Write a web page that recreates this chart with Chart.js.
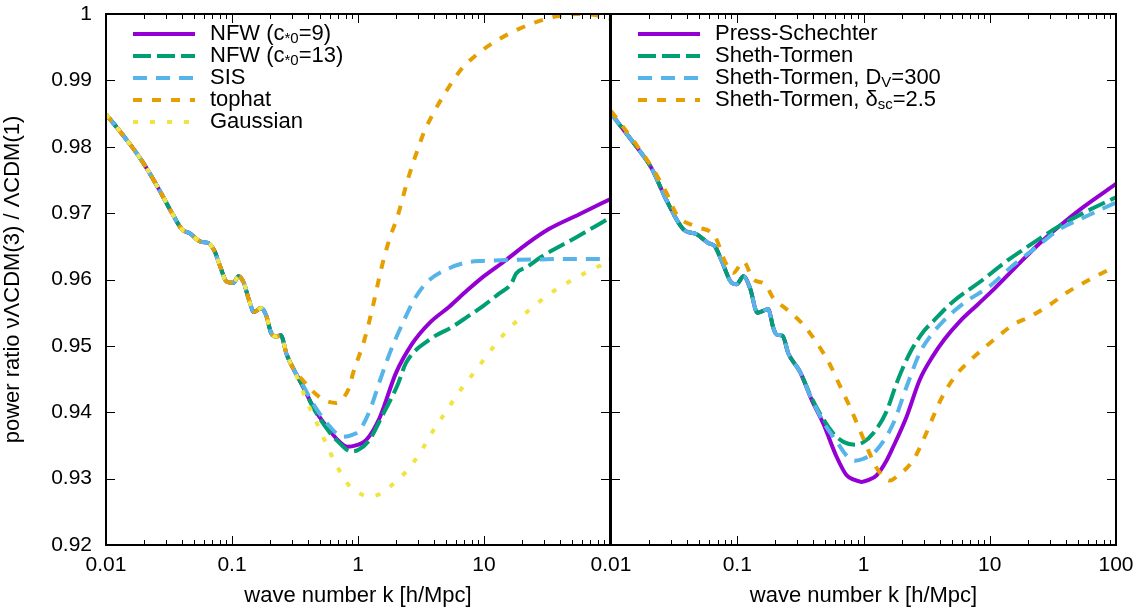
<!DOCTYPE html>
<html>
<head>
<meta charset="utf-8">
<script src="https://cdn.jsdelivr.net/npm/chart.js@4.4.1/dist/chart.umd.min.js"></script>
<style>
  html, body { margin: 0; padding: 0; background: #fff; }
  #wrap { position: relative; width: 1140px; height: 610px; overflow: hidden; }
  #left { position: absolute; left: 0; top: 0; }
  #right { position: absolute; left: 560px; top: 0; }
</style>
</head>
<body>
<div id="wrap">
  <div id="left"><canvas id="cL" width="620" height="610"></canvas></div>
  <div id="right"><canvas id="cR" width="580" height="610"></canvas></div>
</div>
<script>
// axis ticks
const yTicks = [0.92, 0.93, 0.94, 0.95, 0.96, 0.97, 0.98, 0.99, 1];
const yTickLabels = ['0.92', '0.93', '0.94', '0.95', '0.96', '0.97', '0.98', '0.99', '1'];
const xTicksL = [0.01, 0.1, 1, 10];
const xLabelsL = ['0.01', '0.1', '1', '10'];
const xTicksR = [0.01, 0.1, 1, 10, 100];
const xLabelsR = ['0.01', '0.1', '1', '10', '100'];

// ---- left panel: halo profiles ----
// shared low-k part (all five curves lie on top of each other)
const kLowL = [0.01, 0.0141, 0.0194, 0.0265, 0.0341, 0.0399, 0.0467, 0.0564, 0.0647, 0.0726, 0.0798, 0.0904,
  0.1025, 0.1127, 0.124, 0.136, 0.1496, 0.170, 0.1866, 0.2049, 0.225, 0.2442, 0.2716, 0.3083];
const lowL = [0.9849, 0.9814, 0.9778, 0.9735, 0.9697, 0.9676, 0.9669, 0.9657, 0.9655, 0.9643, 0.9622, 0.9597,
  0.9595, 0.9605, 0.9595, 0.9570, 0.9551, 0.9557, 0.9546, 0.9519, 0.9514, 0.9516, 0.9487, 0.9465];

const kNfw9 = [0.365, 0.45, 0.594, 0.70, 0.828, 0.96, 1.16, 1.48, 2.0, 2.71, 3.67, 5.3, 7.4, 10, 14.9, 22, 32.7, 56.6, 100];
const nfw9 = [0.9439, 0.9405, 0.9373, 0.9357, 0.9348, 0.9350, 0.9358, 0.9391, 0.9459, 0.9504, 0.9534, 0.9559, 0.9584,
  0.9605, 0.9629, 0.9654, 0.9676, 0.9698, 0.9721];

const kNfw13 = [0.365, 0.45, 0.594, 0.70, 0.881, 1.0, 1.23, 1.57, 2.06, 2.4, 3.67, 5.64, 7.4, 10, 13, 16.5, 18, 22, 29, 53.3, 100];
const nfw13 = [0.9439, 0.9404, 0.9370, 0.9355, 0.9341, 0.9343, 0.9358, 0.9396, 0.9441, 0.9474, 0.9509, 0.9529, 0.9544,
  0.9561, 0.9578, 0.9594, 0.9609, 0.9619, 0.9635, 0.9663, 0.9693];

const kSis = [0.365, 0.45, 0.594, 0.757, 0.9, 1.03, 1.23, 1.52, 1.83, 2.26, 2.88, 3.67, 5.3, 7.4, 9.7, 24, 50, 100];
const sis = [0.9441, 0.9410, 0.9379, 0.9363, 0.9366, 0.9373, 0.9401, 0.9452, 0.9494, 0.9534, 0.9574, 0.9599, 0.9617,
  0.9626, 0.9628, 0.9630, 0.9631, 0.9631];

const kTophat = [0.35, 0.494, 0.671, 0.75, 0.855, 0.908, 1.124, 1.31, 1.52, 1.77, 2.06, 2.48, 2.88, 3.36, 4.03, 4.99,
  6.55, 8.65, 11.9, 17.3, 25.2, 36.8, 53.7, 78.2, 100];
const tophat = [0.9452, 0.9423, 0.9414, 0.9420, 0.9438, 0.9457, 0.9509, 0.9559, 0.9614, 0.9660, 0.9695, 0.9750, 0.9788,
  0.9823, 0.9853, 0.9883, 0.9916, 0.9938, 0.9957, 0.9974, 0.9987, 0.9996, 1.0, 0.9998, 0.9993];

const kGauss = [0.35, 0.388, 0.45, 0.558, 0.671, 0.855, 1.0, 1.23, 1.5, 1.77, 2.47, 3.16, 3.91, 4.99, 6.36, 8.6, 11.5,
  16, 25.7, 36, 53.3, 81.5, 100];
const gauss = [0.9440, 0.9418, 0.9392, 0.9353, 0.9321, 0.9289, 0.9279, 0.9273, 0.9277, 0.9287, 0.9313, 0.9341, 0.9371,
  0.9401, 0.9431, 0.9463, 0.9495, 0.9527, 0.9562, 0.9583, 0.9602, 0.9620, 0.9626];

// ---- right panel: mass functions ----
const kLowR = [0.01, 0.0152, 0.0209, 0.0276, 0.0373, 0.0477, 0.0589, 0.0665, 0.0753, 0.0904, 0.099, 0.112, 0.1263,
  0.1443, 0.176, 0.193, 0.205, 0.229, 0.2535, 0.314];
const lowR = [0.9850, 0.9805, 0.9768, 0.9719, 0.9676, 0.9668, 0.9655, 0.9650, 0.9628, 0.9595, 0.9593, 0.9605, 0.9587,
  0.9550, 0.9555, 0.9527, 0.9517, 0.9515, 0.9489, 0.9461];

const kPs = [0.388, 0.48, 0.612, 0.735, 0.85, 0.966, 1.1, 1.27, 1.5, 1.72, 2.19, 2.79, 3.5, 4.38, 5.8, 8, 11, 17.3, 25, 35.9, 55, 100];
const ps = [0.9419, 0.9383, 0.9333, 0.9305, 0.9298, 0.9295, 0.9298, 0.9305, 0.9325, 0.9348, 0.9393, 0.9449, 0.9483,
  0.9510, 0.9537, 0.9562, 0.9587, 0.9625, 0.9655, 0.9681, 0.9709, 0.9744];

const kSt = [0.388, 0.452, 0.577, 0.7, 0.855, 1.0, 1.19, 1.52, 1.83, 2.34, 3.0, 3.56, 5, 8.87, 13, 18.4, 25, 35.9, 55, 100];
const st = [0.9422, 0.9398, 0.9368, 0.9355, 0.9351, 0.9355, 0.9368, 0.9401, 0.9444, 0.9490, 0.9522, 0.9537, 0.9565,
  0.9600, 0.9625, 0.9645, 0.9662, 0.9681, 0.9700, 0.9724];

const kStDv = [0.388, 0.5, 0.612, 0.74, 0.855, 1.0, 1.27, 1.72, 2.19, 2.8, 3.4, 4.27, 6.3, 10, 15, 22.1, 35.9, 55, 100];
const stDv = [0.9420, 0.9380, 0.9356, 0.9334, 0.9327, 0.9330, 0.9343, 0.9383, 0.9438, 0.9490, 0.9515, 0.9537, 0.9565,
  0.9590, 0.9620, 0.9645, 0.9676, 0.9693, 0.9716];

const kStDsc = [0.01, 0.0152, 0.0209, 0.0276, 0.0331, 0.0462, 0.0665, 0.080, 0.093, 0.112, 0.134, 0.166, 0.193, 0.246,
  0.333, 0.425, 0.542, 0.65, 0.78, 0.936, 1.09, 1.27, 1.62, 1.83, 2.48, 2.97, 3.56, 4.12, 5.3, 7.26, 10.6, 15.4, 20.8,
  29.9, 40.6, 62, 100];
const stDsc = [0.9854, 0.9808, 0.9770, 0.9730, 0.9698, 0.9680, 0.9665, 0.9627, 0.9610, 0.9627, 0.9600, 0.9593, 0.9572,
  0.9555, 0.9532, 0.9505, 0.9472, 0.9440, 0.9408, 0.9373, 0.9343, 0.9316, 0.9297, 0.9303, 0.9328, 0.9358, 0.9393,
  0.9420, 0.9454, 0.9481, 0.9508, 0.9532, 0.9544, 0.9562, 0.9580, 0.9600, 0.9620];

const legendL = ['NFW (c_{*0}=9)', 'NFW (c_{*0}=13)', 'SIS', 'tophat', 'Gaussian'];
const legendR = ['Press-Schechter', 'Sheth-Tormen', 'Sheth-Tormen, D_{V}=300', 'Sheth-Tormen, \u03b4_{sc}=2.5'];

const FONT = '"Liberation Sans", Arial, Helvetica, sans-serif';
Chart.defaults.font.family = FONT;
Chart.defaults.color = '#000';

const purple = '#9400d3', green = '#009e73', blue = '#56b4e9', orange = '#e69f00', yellow = '#f0e442';

function pts(k, v) { return k.map((x, i) => ({ x: x, y: v[i] })); }

function line(label, data, color, dash, order) {
  return {
    label: label, data: data, borderColor: color, borderDash: dash, borderWidth: 4,
    pointRadius: 0, fill: false, cubicInterpolationMode: 'monotone', borderCapStyle: 'butt', order: order
  };
}

// splits "NFW (c_{*0}=9)" into normal / subscript pieces
function pieces(s) {
  const out = [];
  const re = /_\{([^}]*)\}/g;
  let last = 0, m;
  while ((m = re.exec(s))) {
    if (m.index > last) out.push({ t: s.slice(last, m.index), sub: false });
    out.push({ t: m[1], sub: true });
    last = re.lastIndex;
  }
  if (last < s.length) out.push({ t: s.slice(last), sub: false });
  return out;
}

const frame = {
  id: 'frame',
  afterDatasetsDraw(chart, args, opts) {
    const ctx = chart.ctx, a = chart.chartArea, x = chart.scales.x, y = chart.scales.y;
    ctx.save();
    ctx.strokeStyle = '#000';
    ctx.lineWidth = 1;
    ctx.beginPath();
    for (let e = -2; e < 2; e++) {
      for (let m = 1; m < 10; m++) {
        const px = Math.round(x.getPixelForValue(m * Math.pow(10, e))) + 0.5;
        const len = m === 1 ? 9 : 5;
        ctx.moveTo(px, a.bottom); ctx.lineTo(px, a.bottom - len);
        ctx.moveTo(px, a.top); ctx.lineTo(px, a.top + len);
      }
    }
    yTicks.forEach(v => {
      const py = Math.round(y.getPixelForValue(v)) + 0.5;
      ctx.moveTo(a.left, py); ctx.lineTo(a.left + 9, py);
      ctx.moveTo(a.right, py); ctx.lineTo(a.right - 9, py);
    });
    ctx.stroke();
    ctx.lineWidth = 2;
    ctx.strokeRect(a.left, a.top, a.right - a.left, a.bottom - a.top);

    // key
    opts.labels.forEach((txt, i) => {
      const ds = chart.data.datasets[i];
      const ly = a.top + 20 + 22 * i;
      ctx.beginPath();
      ctx.setLineDash(ds.borderDash || []);
      ctx.lineCap = 'butt';
      ctx.lineWidth = 4;
      ctx.strokeStyle = ds.borderColor;
      ctx.moveTo(a.left + 27, ly); ctx.lineTo(a.left + 89, ly);
      ctx.stroke();
      ctx.setLineDash([]);
      let tx = a.left + 104;
      ctx.fillStyle = '#000';
      ctx.textBaseline = 'middle';
      ctx.textAlign = 'left';
      pieces(txt).forEach(p => {
        ctx.font = (p.sub ? '15px ' : '22px ') + FONT;
        ctx.fillText(p.t, tx, p.sub ? ly + 5 : ly);
        tx += ctx.measureText(p.t).width;
      });
    });
    ctx.restore();
  }
};

function makeChart(id, datasets, xTicks, xLabels, showY, pad, labels) {
  return new Chart(document.getElementById(id), {
    type: 'line',
    data: { datasets: datasets },
    plugins: [frame],
    options: {
      responsive: false,
      animation: false,
      events: [],
      layout: { padding: pad },
      plugins: { legend: { display: false }, tooltip: { enabled: false }, frame: { labels: labels } },
      scales: {
        x: {
          type: 'logarithmic', min: 0.01, max: 100,
          afterBuildTicks: s => { s.ticks = xTicks.map(v => ({ value: v })); },
          afterFit: s => { s.height = 65; s.paddingLeft = 0; s.paddingRight = 0; },
          grid: { display: false, drawTicks: false },
          border: { display: false },
          ticks: { padding: 8, font: { size: 21 }, maxRotation: 0, autoSkip: false,
            callback: (v, i) => xLabels[i] },
          title: { display: true, text: 'wave number k [h/Mpc]', font: { size: 22 }, padding: { top: 0, bottom: 1 } }
        },
        y: {
          type: 'linear', min: 0.92, max: 1, display: showY,
          afterBuildTicks: s => { s.ticks = yTicks.map(v => ({ value: v })); },
          afterFit: s => {
            if (showY) s.width = 106;
            s.paddingTop = 0; s.paddingBottom = 0;
          },
          grid: { display: false, drawTicks: false },
          border: { display: false },
          ticks: { padding: 14, font: { size: 21 }, callback: (v, i) => yTickLabels[i] },
          title: { display: true, text: 'power ratio \u03bd\u039bCDM(3) / \u039bCDM(1)', font: { size: 22 },
            padding: { top: 0, bottom: 0 } }
        }
      }
    }
  });
}

makeChart('cL', [
  line('NFW (c*0=9)', pts(kLowL.concat(kNfw9), lowL.concat(nfw9)), purple, [], 5),
  line('NFW (c*0=13)', pts(kLowL.concat(kNfw13), lowL.concat(nfw13)), green, [18, 6], 4),
  line('SIS', pts(kLowL.concat(kSis), lowL.concat(sis)), blue, [14, 9], 3),
  line('tophat', pts(kLowL.concat(kTophat), lowL.concat(tophat)), orange, [9, 10], 2),
  line('Gaussian', pts(kLowL.concat(kGauss), lowL.concat(gauss)), yellow, [5, 12], 1)
], xTicksL, xLabelsL, true, { top: 14, right: 10, left: 0, bottom: 0 }, legendL);

makeChart('cR', [
  line('Press-Schechter', pts(kLowR.concat(kPs), lowR.concat(ps)), purple, [], 4),
  line('Sheth-Tormen', pts(kLowR.concat(kSt), lowR.concat(st)), green, [18, 6], 3),
  line('Sheth-Tormen, DV=300', pts(kLowR.concat(kStDv), lowR.concat(stDv)), blue, [14, 9], 2),
  line('Sheth-Tormen, dsc=2.5', pts(kStDsc, stDsc), orange, [9, 10], 1)
], xTicksR, xLabelsR, false, { top: 14, right: 24, left: 51, bottom: 0 }, legendR);
</script>
</body>
</html>
